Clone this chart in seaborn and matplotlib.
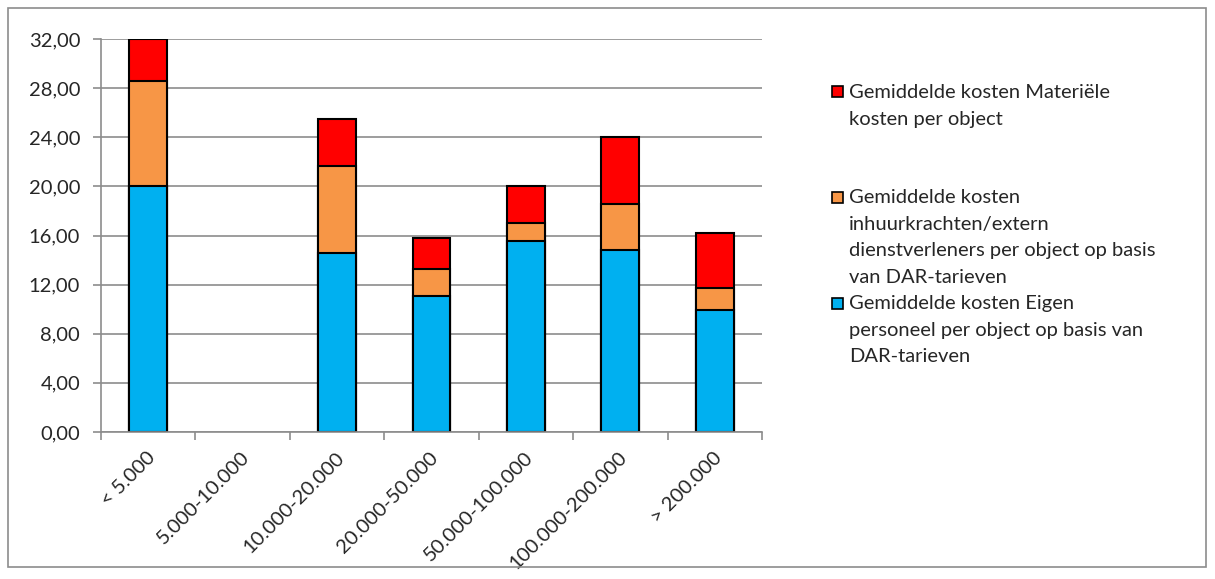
import matplotlib
matplotlib.use("Agg")
import matplotlib.pyplot as plt
import matplotlib.transforms as mtransforms
from matplotlib.patches import Rectangle
from matplotlib.ticker import FuncFormatter, FixedLocator
import numpy as np
import pandas as pd
import seaborn as sns

categories = ["< 5.000", "5.000-10.000", "10.000-20.000", "20.000-50.000",
              "50.000-100.000", "100.000-200.000", "> 200.000"]
eigen = [20.0, np.nan, 14.55, 11.08, 15.52, 14.79, 9.97]
inhuur = [8.6, np.nan, 7.07, 2.16, 1.50, 3.76, 1.74]
materieel = [3.4, np.nan, 3.84, 2.58, 2.97, 5.47, 4.49]

labels = [
    "Gemiddelde kosten Materiële\nkosten per object",
    "Gemiddelde kosten\ninhuurkrachten/extern\ndienstverleners per object op basis\nvan DAR-tarieven",
    "Gemiddelde kosten Eigen\npersoneel per object op basis van\nDAR-tarieven",
]
colors = ["#FF0000", "#F79646", "#00B0F0"]

sns.set_style("white")
plt.rcParams["font.family"] = ["Lato", "DejaVu Sans"]
FS = 14.5

df = pd.DataFrame({"cat": categories, "eigen": eigen, "inhuur": inhuur, "mat": materieel})
df["lvl1"] = df["eigen"]
df["lvl2"] = df["eigen"] + df["inhuur"]
df["lvl3"] = df["lvl2"] + df["mat"]

fig = plt.figure(figsize=(12.15, 5.79), dpi=100)
ax = fig.add_axes([101/1215, 1 - 432/579, (762-101)/1215, (432-39)/579])

for col, c in zip(["lvl3", "lvl2", "lvl1"], colors):
    sns.barplot(data=df, x="cat", y=col, order=categories, color=c, width=0.4,
                edgecolor="black", linewidth=1.5, saturation=1, ax=ax, errorbar=None)

ax.set_ylim(0, 32)
ax.set_xlim(-0.5, len(categories) - 0.5)
ax.set_yticks(np.arange(0, 33, 4))
ax.yaxis.set_major_formatter(FuncFormatter(lambda v, p: f"{v:.2f}".replace(".", ",")))
ax.set_xlabel("")
ax.set_ylabel("")
ax.grid(axis="y", color="#8C8C8C", linewidth=1.2)
ax.set_axisbelow(True)
for s in ["top", "right"]:
    ax.spines[s].set_visible(False)
for s in ["left", "bottom"]:
    ax.spines[s].set_color("#8C8C8C")
    ax.spines[s].set_linewidth(1.2)

ax.tick_params(axis="y", length=6, color="#8C8C8C", width=1.2, labelsize=FS, pad=9, left=True)
ax.tick_params(axis="x", which="major", length=0, labelsize=FS)
ax.xaxis.set_minor_locator(FixedLocator(np.arange(-0.5, len(categories), 1.0)))
ax.tick_params(axis="x", which="minor", length=6, color="#8C8C8C", width=1.2, bottom=True, direction="out")

offset = mtransforms.ScaledTranslation(-2/100, -12/100, fig.dpi_scale_trans)
for lab in ax.get_xticklabels():
    lab.set_rotation(45)
    lab.set_ha("right")
    lab.set_va("top")
    lab.set_rotation_mode("anchor")
    lab.set_transform(lab.get_transform() + offset)

# legend
leg_y = [92, 197, 303]
for lab, c, y in zip(labels, colors, leg_y):
    fig.add_artist(Rectangle((832/1215, 1 - (y+5.5)/579), 11/1215, 11/579,
                             transform=fig.transFigure, facecolor=c, edgecolor="black", linewidth=1.2))
    fig.text(849/1215, 1 - (y - 8)/579, lab, ha="left", va="top", fontsize=FS,
             linespacing=1.69)

fig.add_artist(Rectangle((8/1215, 1 - 567/579), (1206-8)/1215, (567-8)/579,
                         transform=fig.transFigure, facecolor="none", edgecolor="#8C8C8C", linewidth=1.2))

fig.savefig("out.png", dpi=100)
